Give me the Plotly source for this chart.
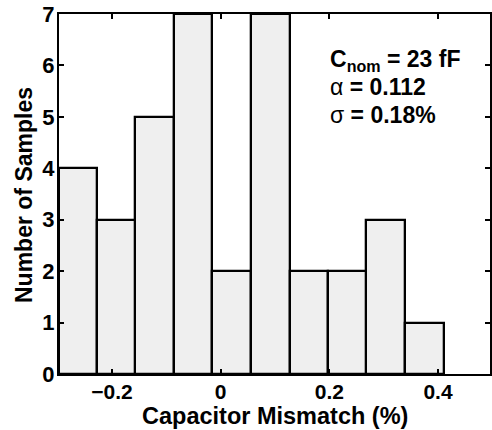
import plotly.graph_objects as go

bin_centers = [-0.2629, -0.1923, -0.1217, -0.0509, 0.0203, 0.0914, 0.1626, 0.2332, 0.3037, 0.3748]
counts = [4, 3, 5, 7, 2, 7, 2, 2, 3, 1]
bin_width = 0.0711
x_ticks = [-0.2, 0, 0.2, 0.4]
x_tick_text = ["\u22120.2", "0", "0.2", "0.4"]
y_ticks = [0, 1, 2, 3, 4, 5, 6, 7]

font_family = "Liberation Sans, Arial, Helvetica, sans-serif"

W, H = 492, 430
pl, pr, pt, pb = 59, 490, 14, 374

fig = go.Figure()
fig.add_trace(go.Bar(
    x=bin_centers, y=counts, width=bin_width,
    marker=dict(color="#efefef", line=dict(color="black", width=2.3)),
    showlegend=False, hoverinfo="skip",
))

fig.update_layout(
    width=W, height=H,
    margin=dict(l=pl, r=W - pr, t=pt, b=H - pb, autoexpand=False),
    paper_bgcolor="white", plot_bgcolor="white",
    font=dict(family=font_family, size=22, color="black"),
    bargap=0,
    xaxis=dict(
        range=[-0.2976, 0.4957], tickvals=x_ticks,
        ticktext=["<b>%s</b>" % t for t in x_tick_text],
        ticks="inside", ticklen=5, tickwidth=2, tickcolor="black",
        showline=True, linecolor="black", linewidth=2.3, mirror="ticks",
        showgrid=False, zeroline=False, automargin=False,
        tickfont=dict(size=21), ticklabelstandoff=-2, ticklabeloverflow="allow",
    ),
    yaxis=dict(
        range=[0, 7], tickvals=y_ticks,
        ticktext=["<b>%d</b>" % v for v in y_ticks],
        ticks="inside", ticklen=5, tickwidth=2, tickcolor="black",
        showline=True, linecolor="black", linewidth=2.3, mirror="ticks",
        showgrid=False, zeroline=False, automargin=False,
        tickfont=dict(size=22), ticklabelstandoff=-2, ticklabeloverflow="allow",
    ),
)

def px_to_paper(px, py):
    return (px - pl) / (pr - pl), (pb - py) / (pb - pt)

# axis titles
tx, ty = px_to_paper(275, 416)
fig.add_annotation(x=tx, y=ty, xref="paper", yref="paper", text="<b>Capacitor Mismatch (%)</b>",
                   showarrow=False, xanchor="center", yanchor="middle", font=dict(size=23.5),
                   borderpad=0)
tx, ty = px_to_paper(24, 195)
fig.add_annotation(x=tx, y=ty, xref="paper", yref="paper", text="<b>Number of Samples</b>",
                   textangle=-90, showarrow=False, xanchor="center", yanchor="middle",
                   font=dict(size=23))

lines = [
    ("<b>C<sub>nom</sub> = 23 fF</b>", 6.09),
    ("\u03b1<b> = 0.112</b>", 5.59),
    ("\u03c3<b> = 0.18%</b>", 5.03),
]
for txt, yv in lines:
    fig.add_annotation(x=0.2, y=yv, xref="x", yref="y", text=txt, showarrow=False,
                       xanchor="left", yanchor="middle", font=dict(size=23, color="black"),
                       borderpad=0)

fig.write_html("out.html", config={"displayModeBar": False},
               post_script="document.body.style.margin='0';document.body.style.overflow='hidden';")
